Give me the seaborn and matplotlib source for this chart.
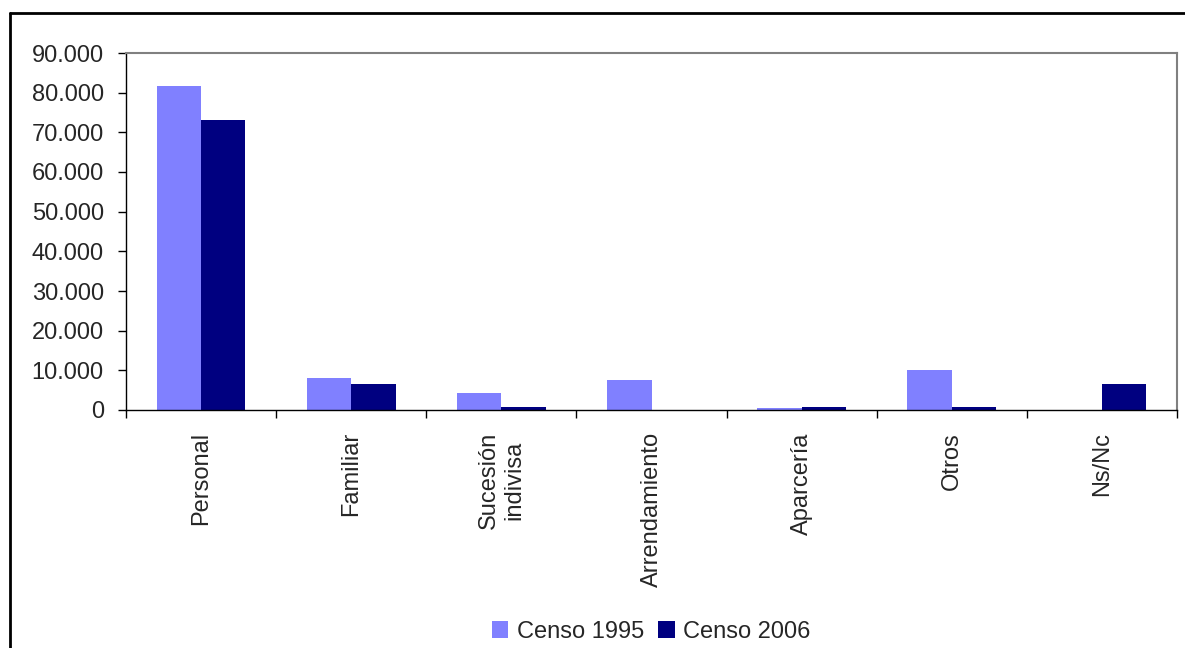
import matplotlib
matplotlib.use("Agg")
import matplotlib.pyplot as plt
import matplotlib.ticker as mticker
from matplotlib.lines import Line2D
import seaborn as sns
import pandas as pd
import numpy as np

categories = ["Personal", "Familiar", "Sucesión\nindivisa", "Arrendamiento",
              "Aparcería", "Otros", "Ns/Nc"]
censo_1995 = [81700, 8000, 4200, 7500, 600, 10000, 0]
censo_2006 = [73000, 6550, 700, 0, 700, 700, 6550]
series_names = ["Censo 1995", "Censo 2006"]
y_ticks = [0, 10000, 20000, 30000, 40000, 50000, 60000, 70000, 80000, 90000]

df = pd.DataFrame({
    "cat": categories * 2,
    "serie": [series_names[0]] * len(categories) + [series_names[1]] * len(categories),
    "val": censo_1995 + censo_2006,
})

sns.set_style("white")
plt.rcParams["font.family"] = ["Liberation Sans", "DejaVu Sans"]

W, H = 1185, 648
fs = 17
fig = plt.figure(figsize=(W / 100, H / 100), dpi=100)
ax = fig.add_axes([126 / W, 1 - 410 / H, (1177 - 126) / W, (410 - 53) / H])

palette = {"Censo 1995": "#8080FF", "Censo 2006": "#000080"}
sns.barplot(data=df, x="cat", y="val", hue="serie", order=categories,
            hue_order=series_names, palette=palette, width=0.59, gap=0,
            saturation=1, ax=ax, legend=False, edgecolor="none", linewidth=0)

ax.set_xlim(-0.5, len(categories) - 0.5)
ax.set_ylim(0, 90000)
ax.set_yticks(y_ticks)
ax.yaxis.set_major_formatter(mticker.FuncFormatter(
    lambda v, p: f"{int(v):,}".replace(",", ".")))
ax.set_xlabel("")
ax.set_ylabel("")

ax.set_xticks(range(len(categories)))
ax.set_xticklabels(categories, rotation=90, va="top", ha="center",
                   fontsize=fs, multialignment="center")
ax.set_xticks(np.arange(-0.5, len(categories) + 0.5, 1.0), minor=True)
ax.tick_params(axis="x", which="major", length=0, pad=16)
ax.tick_params(axis="x", which="minor", length=6, width=1, color="black",
               direction="out", bottom=True)
ax.tick_params(axis="y", which="major", length=6, width=1, color="black",
               direction="out", left=True, labelsize=fs, pad=10)

for side in ["top", "right"]:
    ax.spines[side].set_visible(True)
    ax.spines[side].set_color("#808080")
    ax.spines[side].set_linewidth(1.5)
for side in ["left", "bottom"]:
    ax.spines[side].set_color("black")
    ax.spines[side].set_linewidth(1.0)

# legend
handles = [plt.Rectangle((0, 0), 1, 1, facecolor=palette[s], edgecolor="none")
           for s in series_names]
fig.legend(handles, series_names, loc="center", bbox_to_anchor=(651 / W, 1 - 632 / H),
           ncol=2, frameon=False, fontsize=fs, handlelength=0.7, handleheight=0.7,
           handletextpad=0.35, columnspacing=0.6)

# outer chart border (left and top)
fig.add_artist(Line2D([9.5 / W, 9.5 / W], [0, 1 - 13 / H], transform=fig.transFigure,
                      color="black", linewidth=2))
fig.add_artist(Line2D([9.5 / W, 1], [1 - 13 / H, 1 - 13 / H], transform=fig.transFigure,
                      color="black", linewidth=2))

fig.savefig("out.png", dpi=100)
